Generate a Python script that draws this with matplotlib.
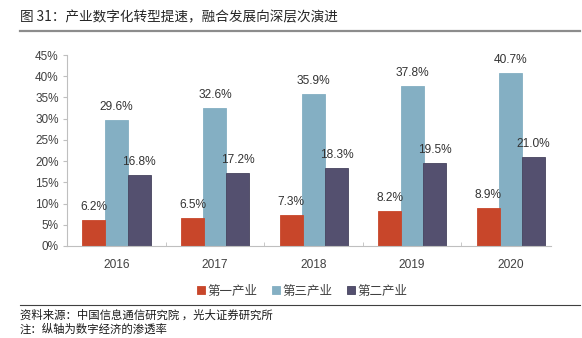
import matplotlib
matplotlib.use("Agg")
import matplotlib.pyplot as plt
import numpy as np

plt.rcParams['font.family'] = ['Liberation Sans', 'Noto Sans CJK SC', 'DejaVu Sans']

years = ['2016', '2017', '2018', '2019', '2020']
primary = [6.2, 6.5, 7.3, 8.2, 8.9]      # 第一产业
tertiary = [29.6, 32.6, 35.9, 37.8, 40.7]  # 第三产业
secondary = [16.8, 17.2, 18.3, 19.5, 21.0]  # 第二产业
series_names = ['第一产业', '第三产业', '第二产业']
colors = ['#C8462A', '#84AFC3', '#54506F']
edges = ['#C8462A', '#84AFC3', '#46435E']
yticks = [0, 5, 10, 15, 20, 25, 30, 35, 40, 45]

fig = plt.figure(figsize=(5.82, 3.38), dpi=100)
ax = fig.add_axes([67/582, 1-246/338, (560-67)/582, (246-55)/338])

x = np.arange(len(years))
w = 0.233
offs = [-0.228, 0.0, 0.232]
data = [primary, tertiary, secondary]
for i, (vals, c, ec, name) in enumerate(zip(data, colors, edges, series_names)):
    bars = ax.bar(x + offs[i], vals, width=w, color=c, edgecolor=ec, linewidth=0.6,
                  label=name, zorder=2 if i != 1 else 1)
    for b, v in zip(bars, vals):
        ax.annotate(f'{v:.1f}%', (b.get_x() + b.get_width()/2, v),
                    xytext=(0, 5), textcoords='offset points',
                    ha='center', va='bottom', fontsize=8.6, color='#333333',
                    family=['Liberation Sans'])

ax.set_xlim(-0.5, 4.5)
ax.set_ylim(0, 45)
ax.set_yticks(yticks)
ax.set_yticklabels([f'{t}%' for t in yticks], fontsize=8.5, color='#404040')
ax.set_xticks(x)
ax.set_xticklabels(years, fontsize=8.6, color='#404040')
ax.tick_params(axis='x', length=0, pad=9)
ax.set_xticks(np.arange(-0.5, 4.5, 1.0)[1:], minor=True)
ax.tick_params(axis='x', which='minor', direction='in', length=3, color='#BFBFBF')
ax.tick_params(axis='y', length=3, color='#BFBFBF', pad=3)
for s in ['top', 'right']:
    ax.spines[s].set_visible(False)
for s in ['left', 'bottom']:
    ax.spines[s].set_color('#BFBFBF')
    ax.spines[s].set_linewidth(0.8)
ax.spines['bottom'].set_bounds(-0.5, 4.41)

leg = fig.legend(loc='center', bbox_to_anchor=(302/582, 1-291/338), ncol=3,
                 frameon=False, handlelength=0.6, handleheight=0.6,
                 handletextpad=0.2, columnspacing=1.2,
                 prop={'family': ['Noto Sans CJK SC'], 'size': 9})
for t in leg.get_texts():
    t.set_color('#404040')

fig.text(20/582, 1-17/338, '图 31：产业数字化转型提速，融合发展向深层次演进',
         fontsize=9.8, family=['Noto Sans CJK SC'], color='#262626', va='center', ha='left')
fig.add_artist(plt.Line2D([20/582, 580/582], [1-31/338, 1-31/338], color='#8C8C8C', lw=1.6))
fig.add_artist(plt.Line2D([20/582, 580/582], [1-305/338, 1-305/338], color='#404040', lw=0.8))
fig.text(20/582, 1-315/338, '资料来源：中国信息通信研究院 ，光大证券研究所',
         fontsize=8.2, family=['Noto Sans CJK SC'], color='#1a1a1a', va='center', ha='left')
fig.text(20/582, 1-329/338, '注：纵轴为数字经济的渗透率',
         fontsize=8.2, family=['Noto Sans CJK SC'], color='#1a1a1a', va='center', ha='left')

fig.savefig('out.png', dpi=100)
